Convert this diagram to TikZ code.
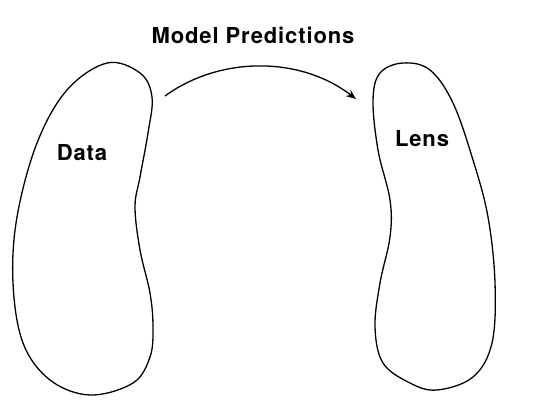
\documentclass[tikz,border=0pt]{standalone}
\usepackage{fontspec}
\setmainfont{TeX Gyre Heros}
\usetikzlibrary{arrows.meta}
\tikzset{
  blob/.style={draw=black, line width=1.3pt, fill=white},
  lbl/.style={font=\fontsize{22}{25}\selectfont\bfseries\addfontfeature{LetterSpace=4}, inner sep=0pt},
  conn/.style={draw=black, line width=1.3pt, -{Stealth[length=10pt,width=8pt]}}
}
\begin{document}
\begin{tikzpicture}[x=1pt,y=-1pt]
\useasboundingbox (0,0) rectangle (557,418);
\fill[white] (0,0) rectangle (557,418);
% Data blob
\draw[blob] plot[smooth cycle, tension=0.6] coordinates {
 (107,63) (140,73) (152,97) (148,133) (140,177) (135,207) (140,250)
 (150,293) (153,327) (150,357) (133,383) (90,395) (50,380) (23,343)
 (13,283) (17,217) (37,143) (67,90)};
% Lens blob
\draw[blob] plot[smooth cycle, tension=0.6] coordinates {
 (403,63) (380,73) (373,100) (378,150) (390,200) (390,237) (380,283)
 (375,327) (383,363) (410,383) (437,390) (473,377) (492,343) (495,283)
 (488,217) (473,160) (453,103) (430,70)};
\node[lbl] (data) at (82,153) {Data};
\node[lbl] (lens) at (422,139) {Lens};
\node[lbl] (title) at (253,35) {Model Predictions};
\coordinate (s) at (165,96);
\coordinate (e) at (356,99);
\draw[conn] (s) .. controls (220,56) and (300,56) .. (e);
\end{tikzpicture}
\end{document}
